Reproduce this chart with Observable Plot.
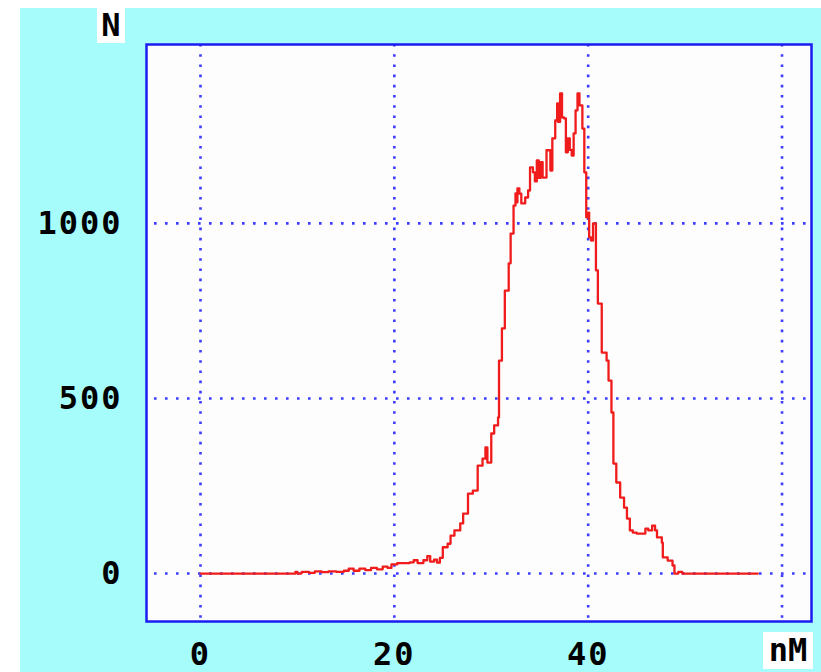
<!DOCTYPE html>
<html>
<head>
<meta charset="utf-8">
<script src="https://cdn.jsdelivr.net/npm/d3@7"></script>
<script src="https://cdn.jsdelivr.net/npm/@observablehq/plot@0.6"></script>
<style>
  html, body { margin: 0; padding: 0; background: #ffffff; }
  #panel { position: absolute; left: 20px; top: 8px; width: 801px; height: 664px; background: #a6fbfb; }
  #chart { position: absolute; left: 0; top: 0; }
  .lbl { position: absolute; background: #ffffff; color: #000; font-family: "DejaVu Sans Mono", monospace; font-weight: bold; font-size: 32px; text-align: center; }
</style>
</head>
<body>
<div id="panel"><div id="chart"></div></div>
<div class="lbl" id="ylab" style="left:97px; top:8px; width:28px; height:35px; line-height:35px;">N</div>
<div class="lbl" id="xlab" style="left:763px; top:632px; width:50px; height:37px; line-height:37px;">nM</div>
<script>
// Concentration (nM)
const nM = [0, 9.6, 9.8, 10.0, 10.4, 10.5, 11.2, 11.8, 12.5, 13.2, 14.0, 14.8, 15.3, 15.8, 16.4, 17.0, 17.6, 18.2, 18.8, 19.3, 19.7,
  20.3, 21.0, 21.6, 22.0, 22.4, 23.0, 23.4, 23.7, 24.1, 24.4, 24.7, 25.0, 25.5, 25.8, 26.2, 26.8, 27.1, 27.6, 28.1, 28.6, 29.1, 29.4, 29.6,
  30.0, 30.3, 30.7, 30.8, 31.1, 31.4, 31.8, 32.0, 32.3, 32.5, 32.6, 32.7, 32.9, 33.1, 33.5, 33.8, 34.0, 34.3, 34.5, 34.7, 34.9, 35.1, 35.3,
  35.7, 36.1, 36.3, 36.6, 36.8, 36.9, 37.1, 37.3, 37.5, 37.7, 37.9, 38.1, 38.3, 38.5, 38.7, 38.9, 39.1, 39.4, 39.6, 39.8,
  40.0, 40.1, 40.3, 40.5, 40.8, 41.0, 41.4, 41.9, 42.1, 42.4, 42.6, 42.9, 43.3, 43.7, 44.0, 44.3, 44.6, 45.0, 45.5, 45.9, 46.2, 46.6, 46.9,
  47.1, 47.6, 47.7, 48.2, 48.7, 48.9, 49.3, 49.7, 57.5];
// Count (N)
const N = [0, 0, 5, 0, 3, 5, 2, 6, 4, 6, 5, 8, 14, 8, 14, 10, 16, 12, 20, 16, 26,
  30, 30, 32, 38, 30, 38, 50, 34, 40, 31, 45, 75, 85, 108, 123, 143, 171, 228, 237, 308, 328, 360, 317,
  400, 423, 446, 608, 700, 808, 886, 971, 1051, 1086, 1060, 1100, 1085, 1057, 1074, 1094, 1160, 1146, 1120, 1180, 1130, 1175, 1131,
  1209, 1151, 1243, 1294, 1343, 1290, 1371, 1303, 1300, 1203, 1243, 1210, 1194, 1257, 1323, 1371, 1337, 1271, 1146, 1017,
  1031, 960, 951, 1000, 866, 771, 631, 608, 551, 460, 314, 260, 217, 188, 157, 123, 117, 114, 114, 128, 123, 137, 123,
  103, 88, 46, 37, 23, 0, 5, 0, 0];

const xTicks = [0, 20, 40];
const xGrid = [0, 20, 40, 60];
const yTicks = [0, 500, 1000];

const data = nM.map((x, i) => ({x, y: N[i]}));

const chart = Plot.plot({
  width: 801,
  height: 664,
  marginLeft: 126,
  marginTop: 36,
  marginRight: 10,
  marginBottom: 51,
  style: {background: "transparent", fontFamily: "'DejaVu Sans Mono', monospace", fontSize: "32px", fontWeight: "bold", color: "#000", letterSpacing: "2px"},
  x: {domain: [-5.57, 63.04], ticks: xTicks, tickSize: 0, tickPadding: 21, label: null, tickFormat: d => String(d)},
  y: {domain: [-137, 1511], ticks: yTicks, tickSize: 0, tickPadding: 24, label: null, tickFormat: d => String(d)},
  marks: [
    Plot.frame({fill: "#fdfdfd", stroke: null}),
    Plot.ruleX(xGrid, {stroke: "#3c3cff", strokeWidth: 2.6, strokeDasharray: "2.6 7.6", strokeDashoffset: 0}),
    Plot.ruleY(yTicks, {stroke: "#3c3cff", strokeWidth: 2.6, strokeDasharray: "2.6 8.4", strokeDashoffset: 3}),
    Plot.line(data, {x: "x", y: "y", curve: "step-after", stroke: "#f01c1c", strokeWidth: 2.3}),
    Plot.frame({stroke: "#1c1cf0", strokeWidth: 2.5})
  ]
});
document.getElementById("chart").appendChild(chart);
</script>
</body>
</html>
